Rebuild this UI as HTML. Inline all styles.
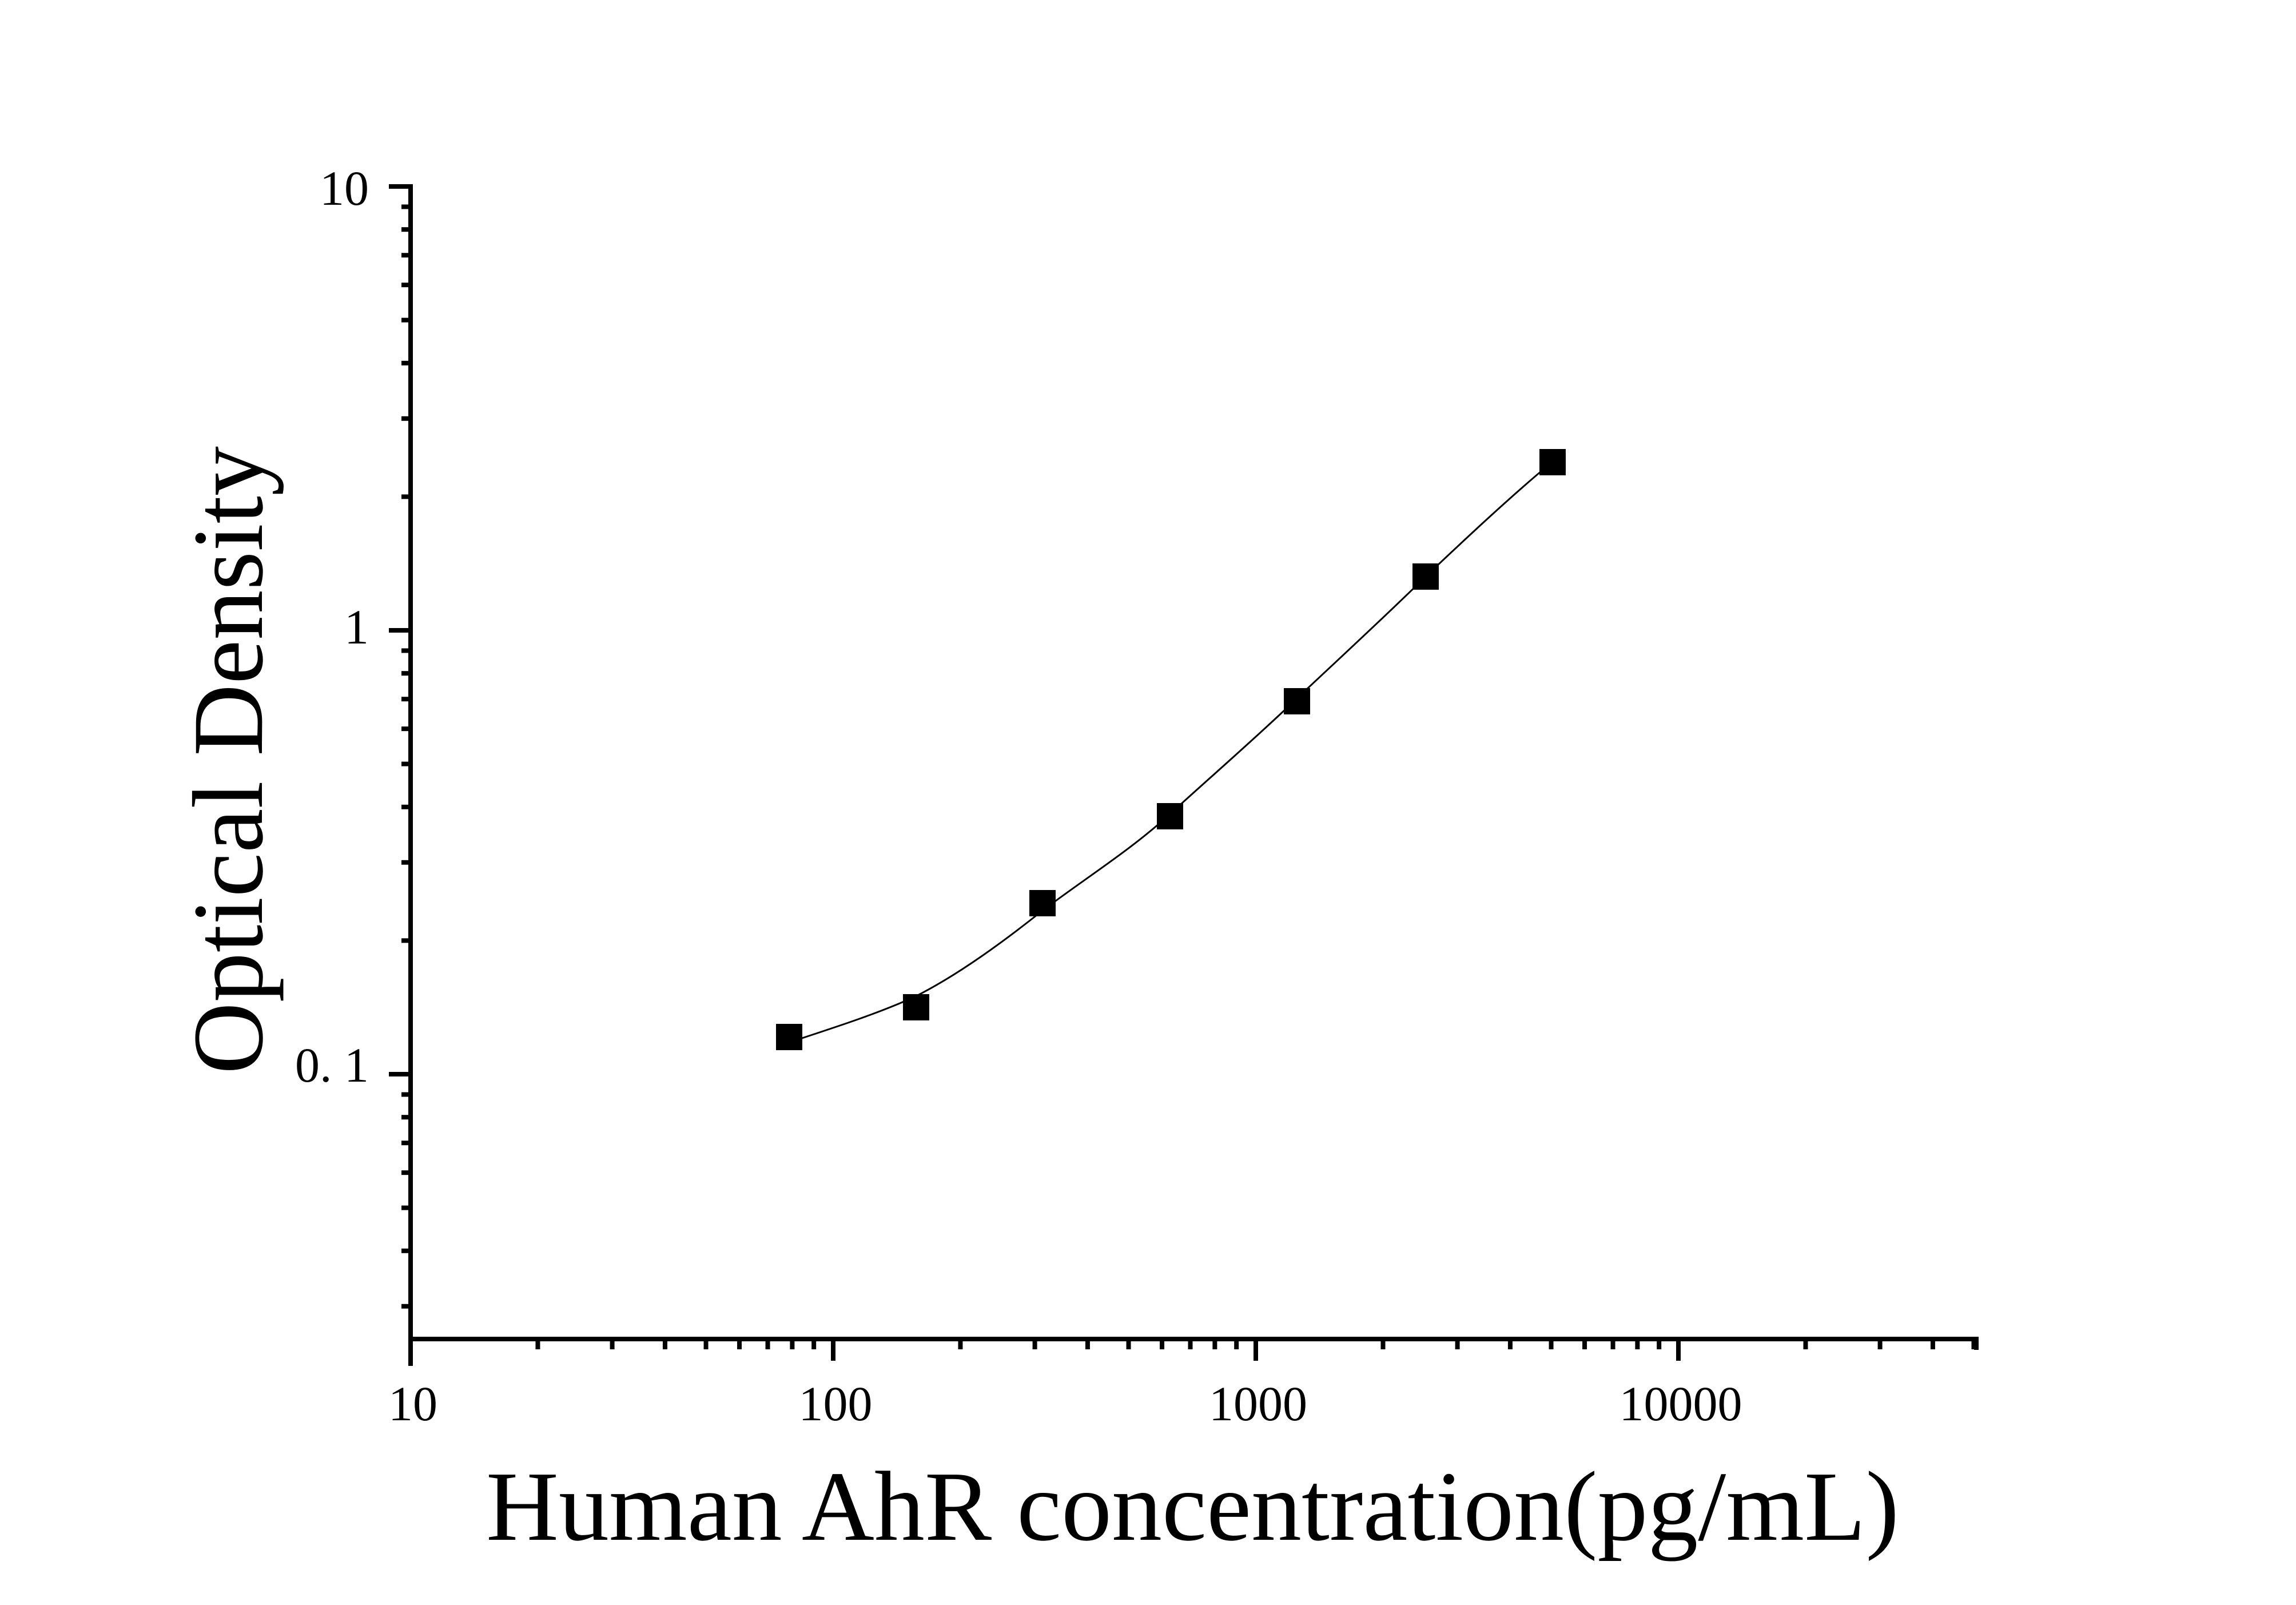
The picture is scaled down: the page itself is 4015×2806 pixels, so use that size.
<!DOCTYPE html>
<html><head><meta charset="utf-8"><style>html,body{margin:0;padding:0;background:#fff}svg{display:block}</style></head>
<body>
<svg width="4015" height="2806" viewBox="0 0 4015 2806" xmlns="http://www.w3.org/2000/svg">
<rect width="4015" height="2806" fill="#fff"/>
<g stroke="#000" stroke-width="8" fill="none" id="axes">
<line x1="718" y1="322" x2="718" y2="2388"/>
<line x1="714" y1="2341" x2="3460" y2="2341"/>
<line x1="3456" y1="2341" x2="3456" y2="2360"/>
</g>
<g stroke="#000" stroke-width="8" id="ticks"></g>
<path d="M1375,1824 C1470,1793 1540,1770 1601,1742 C1680,1702 1760,1642 1823,1592 C1900,1534 1980,1484 2046,1423 C2120,1356 2200,1286 2268,1221 C2340,1153 2420,1080 2493,1008 C2570,935 2640,870 2702,818" stroke="#000" stroke-width="3" fill="none"/>
<g fill="#000">
<rect x="1357" y="1790" width="46" height="46"/>
<rect x="1579" y="1738" width="46" height="46"/>
<rect x="1800" y="1556" width="46" height="46"/>
<rect x="2023" y="1404" width="46" height="46"/>
<rect x="2245" y="1203" width="46" height="46"/>
<rect x="2470" y="985" width="46" height="46"/>
<rect x="2692" y="785" width="46" height="46"/>
</g>
<g font-family="Liberation Serif, serif" font-size="86" fill="#000">
<text x="645" y="358" text-anchor="end">10</text>
<text x="645" y="1125" text-anchor="end">1</text>
<text x="645" y="1891" text-anchor="end">0. 1</text>
<text x="722" y="2483" text-anchor="middle">10</text>
<text x="1461" y="2483" text-anchor="middle">100</text>
<text x="2200" y="2483" text-anchor="middle">1000</text>
<text x="2939" y="2483" text-anchor="middle">10000</text>
</g>
<text x="850" y="2692" font-family="Liberation Serif, serif" font-size="174" textLength="2471" lengthAdjust="spacingAndGlyphs">Human AhR concentration(pg/mL)</text>
<text transform="translate(458,1878) rotate(-90)" font-family="Liberation Serif, serif" font-size="176" textLength="1098" lengthAdjust="spacingAndGlyphs">Optical Density</text>
<script>
var g=document.getElementById('ticks'),ns='http://www.w3.org/2000/svg';
function L(x1,y1,x2,y2){var l=document.createElementNS(ns,'line');l.setAttribute('x1',x1);l.setAttribute('y1',y1);l.setAttribute('x2',x2);l.setAttribute('y2',y2);g.appendChild(l);}
var X0=718,DX=739,Y0=326,DY=776,AX=2341;
function xp(v){return X0+Math.log10(v/10)*DX;}
function yp(v){return Y0+Math.log10(10/v)*DY;}
for(var d=10;d<=10000;d*=10){for(var k=1;k<10;k++){var v=d*k;if(v>50000)break;var x=xp(v);if(x>3458)break;L(x,AX,x,AX+(k==1?38:18));}}
L(xp(50000),AX,xp(50000),AX+18);
for(var d=0.01;d<=10.001;d*=10){for(var k=1;k<10;k++){var v=d*k;var y=yp(v);if(y>AX||y<322)continue;L(718,y,718-(k==1?38:16),y);}}
</script>
</svg>
</body></html>
